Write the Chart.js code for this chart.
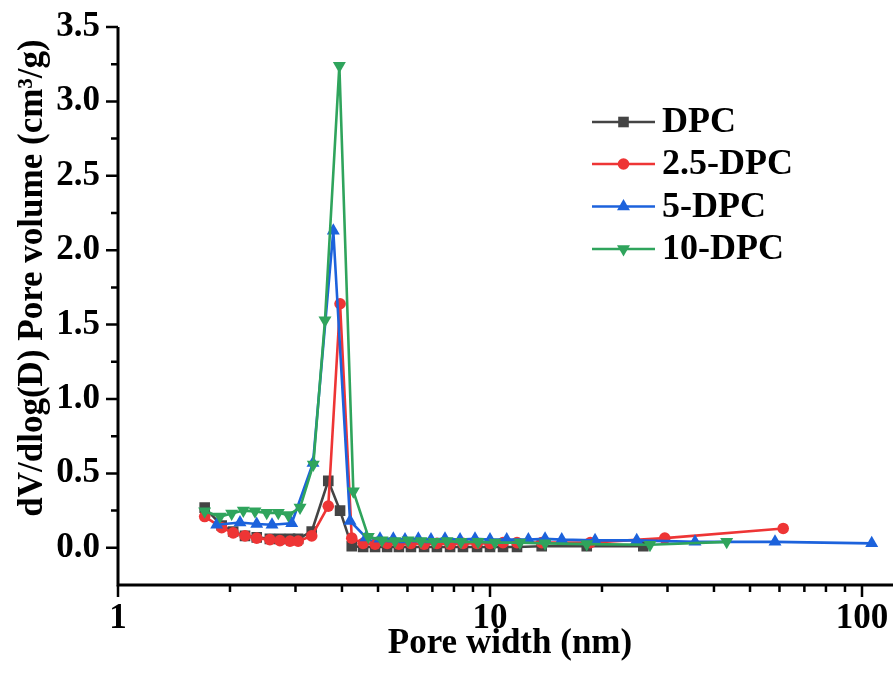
<!DOCTYPE html>
<html><head><meta charset="utf-8">
<script src="https://cdn.jsdelivr.net/npm/chart.js@4.4.1/dist/chart.umd.min.js"></script>
<style>html,body{margin:0;padding:0;background:#fff;}#wrap{width:893px;height:677px;}</style>
</head><body><div id="wrap"><canvas id="c" width="893" height="677"></canvas></div>
<script>
// ---- data ----
const seriesNames = ['DPC', '2.5-DPC', '5-DPC', '10-DPC'];

const dpcWidth = [1.71, 1.90, 2.04, 2.195, 2.36, 2.56, 2.725, 2.90, 3.05, 3.317, 3.675, 3.953, 4.25, 4.56, 4.91, 5.29, 5.69, 6.13, 6.65, 7.20, 7.81, 8.46, 9.23, 10.0, 10.84, 11.82, 13.77, 18.2, 25.83];
const dpcVol   = [0.27, 0.15, 0.11, 0.08, 0.07, 0.06, 0.06, 0.06, 0.06, 0.11, 0.45, 0.25, 0.01, 0.005, 0.005, 0.005, 0.005, 0.005, 0.005, 0.005, 0.005, 0.005, 0.005, 0.005, 0.005, 0.005, 0.01, 0.01, 0.01];

const dpc25Width = [1.71, 1.90, 2.04, 2.195, 2.36, 2.56, 2.725, 2.90, 3.05, 3.317, 3.675, 3.953, 4.25, 4.56, 4.91, 5.29, 5.69, 6.13, 6.65, 7.20, 7.81, 8.46, 9.23, 10.0, 10.84, 11.82, 13.77, 18.6, 29.5, 61.4];
const dpc25Vol   = [0.21, 0.135, 0.10, 0.08, 0.065, 0.055, 0.048, 0.045, 0.045, 0.08, 0.28, 1.64, 0.065, 0.03, 0.025, 0.03, 0.025, 0.03, 0.025, 0.03, 0.025, 0.03, 0.03, 0.03, 0.035, 0.035, 0.035, 0.035, 0.065, 0.13];

const dpc5Width = [1.842, 2.128, 2.36, 2.594, 2.931, 3.344, 3.791, 4.205, 4.642, 5.062, 5.496, 5.909, 6.417, 6.941, 7.568, 8.308, 9.114, 10.0, 11.09, 12.68, 14.06, 15.59, 19.16, 24.8, 35.57, 58.37, 106.2];
const dpc5Vol   = [0.155, 0.17, 0.16, 0.155, 0.165, 0.57, 2.13, 0.18, 0.07, 0.06, 0.06, 0.055, 0.06, 0.055, 0.06, 0.055, 0.06, 0.055, 0.055, 0.055, 0.06, 0.055, 0.05, 0.05, 0.04, 0.04, 0.03];

const dpc10Width = [1.71, 1.88, 2.021, 2.172, 2.335, 2.511, 2.697, 2.87, 3.086, 3.35, 3.601, 3.936, 4.292, 4.708, 5.125, 5.555, 6.021, 6.525, 7.071, 7.662, 8.356, 9.285, 10.31, 12.04, 14.06, 18.2, 26.92, 43.28];
const dpc10Vol   = [0.245, 0.21, 0.23, 0.25, 0.245, 0.235, 0.235, 0.22, 0.27, 0.56, 1.53, 3.24, 0.38, 0.075, 0.05, 0.045, 0.05, 0.045, 0.04, 0.045, 0.04, 0.04, 0.035, 0.035, 0.03, 0.025, 0.02, 0.04];

const xMajorTicks = [1, 10, 100];
const xMinorTicks = [2, 3, 4, 5, 6, 7, 8, 9, 20, 30, 40, 50, 60, 70, 80, 90];
const yMajorTicks = [0, 0.5, 1.0, 1.5, 2.0, 2.5, 3.0, 3.5];
const yMinorTicks = [0.25, 0.75, 1.25, 1.75, 2.25, 2.75, 3.25];
const xTitle = 'Pore width (nm)';
const yTitle = 'dV/dlog(D) Pore volume (cm³/g)';

// ---- styles ----
const colors = ['#444444', '#ee3535', '#1c62dc', '#2fa45c'];
const pointStyles = ['rect', 'circle', 'triangle', 'triangle'];
const pointRots = [0, 0, 0, 180];
const pointRadii = [7.5, 5.8, 7.5, 7.5];
const FONT = "'Liberation Serif', 'Times New Roman', serif";
const PX_PER_DECADE = 372;

function pts(xs, ys) { return xs.map((v, i) => ({x: v, y: ys[i]})); }
const allData = [pts(dpcWidth, dpcVol), pts(dpc25Width, dpc25Vol), pts(dpc5Width, dpc5Vol), pts(dpc10Width, dpc10Vol)];
const drawOrder = [3, 2, 1, 0];

const datasets = allData.map((d, i) => ({
  label: seriesNames[i],
  data: d,
  borderColor: colors[i],
  backgroundColor: colors[i],
  borderWidth: 2.6,
  pointStyle: pointStyles[i],
  rotation: pointRots[i],
  pointRadius: pointRadii[i],
  pointHoverRadius: pointRadii[i],
  pointBorderWidth: 0,
  tension: 0,
  order: drawOrder[i]
}));

const axesPlugin = {
  id: 'axesDraw',
  afterDraw(chart) {
    const {ctx, chartArea} = chart;
    const xs = chart.scales.x, ys = chart.scales.y;
    const L = chartArea.left, B = chartArea.bottom, T = chartArea.top;
    ctx.save();
    ctx.strokeStyle = '#000';
    ctx.lineWidth = 3;
    ctx.beginPath();
    ctx.moveTo(L, T); ctx.lineTo(L, B + 1.5);
    ctx.moveTo(L - 1.5, B); ctx.lineTo(chart.width, B);
    ctx.stroke();
    ctx.lineWidth = 2.5;
    ctx.beginPath();
    xMajorTicks.forEach(v => { const p = xs.getPixelForValue(v); ctx.moveTo(p, B); ctx.lineTo(p, B + 12); });
    xMinorTicks.forEach(v => { const p = xs.getPixelForValue(v); ctx.moveTo(p, B); ctx.lineTo(p, B + 7); });
    yMajorTicks.forEach(v => { const p = ys.getPixelForValue(v); ctx.moveTo(L, p); ctx.lineTo(L - 12, p); });
    yMinorTicks.forEach(v => { const p = ys.getPixelForValue(v); ctx.moveTo(L, p); ctx.lineTo(L - 7, p); });
    ctx.stroke();

    // axis titles
    ctx.fillStyle = '#000';
    ctx.font = 'bold 35px ' + FONT;
    ctx.textAlign = 'center';
    ctx.textBaseline = 'alphabetic';
    ctx.fillText(xTitle, 510, 653);
    ctx.save();
    ctx.translate(42, 278);
    ctx.rotate(-Math.PI / 2);
    ctx.fillText(yTitle, 0, 0);
    ctx.restore();

    // legend
    const rowY = [122, 164, 206.5, 249];
    ctx.font = 'bold 36px ' + FONT;
    ctx.textBaseline = 'middle';
    ctx.textAlign = 'left';
    seriesNames.forEach((name, i) => {
      const y = rowY[i];
      ctx.strokeStyle = colors[i];
      ctx.lineWidth = 2.6;
      ctx.beginPath(); ctx.moveTo(592, y); ctx.lineTo(655, y); ctx.stroke();
      ctx.fillStyle = colors[i];
      const cx = 623.5, r = pointRadii[i];
      ctx.beginPath();
      if (pointStyles[i] === 'rect') {
        const s = r * Math.SQRT1_2; ctx.rect(cx - s, y - s, 2 * s, 2 * s);
      } else if (pointStyles[i] === 'circle') {
        ctx.arc(cx, y, r, 0, Math.PI * 2);
      } else {
        const dir = pointRots[i] === 180 ? -1 : 1;
        ctx.moveTo(cx, y - dir * r);
        ctx.lineTo(cx + r * Math.sin(Math.PI * 2 / 3), y + dir * r / 2);
        ctx.lineTo(cx - r * Math.sin(Math.PI * 2 / 3), y + dir * r / 2);
        ctx.closePath();
      }
      ctx.fill();
      ctx.fillStyle = '#000';
      ctx.fillText(name, 662, y + 1);
    });
    ctx.restore();
  }
};

Chart.defaults.font.family = FONT;
Chart.defaults.color = '#000';

const chart = new Chart(document.getElementById('c'), {
  type: 'line',
  data: { datasets },
  options: {
    responsive: false,
    animation: false,
    events: [],
    layout: { padding: { top: 27, right: 0, left: 0, bottom: 0 } },
    plugins: { legend: { display: false }, tooltip: { enabled: false } },
    scales: {
      x: {
        type: 'logarithmic',
        position: 'bottom',
        min: 1,
        max: 121.2,
        grid: { display: false, drawTicks: false },
        border: { display: false },
        afterBuildTicks: s => { s.ticks = xMajorTicks.map(v => ({value: v})); },
        ticks: {
          autoSkip: false, maxRotation: 0, padding: 13,
          font: { size: 35, weight: 'bold' }, color: '#000',
          callback: v => String(v)
        },
        title: { display: false },
        afterFit: s => { s.height = 92; s.paddingLeft = 0; s.paddingRight = 0; }
      },
      y: {
        type: 'linear',
        position: 'left',
        min: -0.25,
        max: 3.5,
        grid: { display: false, drawTicks: false },
        border: { display: false },
        afterBuildTicks: s => { s.ticks = yMajorTicks.map(v => ({value: v})); },
        ticks: {
          padding: 18,
          font: { size: 35, weight: 'bold' }, color: '#000',
          callback: v => Number(v).toFixed(1)
        },
        title: { display: false },
        afterFit: s => { s.width = 118; s.paddingTop = 0; s.paddingBottom = 0; }
      }
    }
  },
  plugins: [axesPlugin]
});
// keep one decade = PX_PER_DECADE pixels whatever width the plot area got
const area = chart.chartArea;
const wantMax = Math.pow(10, (area.right - area.left) / PX_PER_DECADE);
if (Math.abs(wantMax - chart.options.scales.x.max) > 0.05) {
  chart.options.scales.x.max = wantMax;
  chart.update();
}
</script>
</body></html>
